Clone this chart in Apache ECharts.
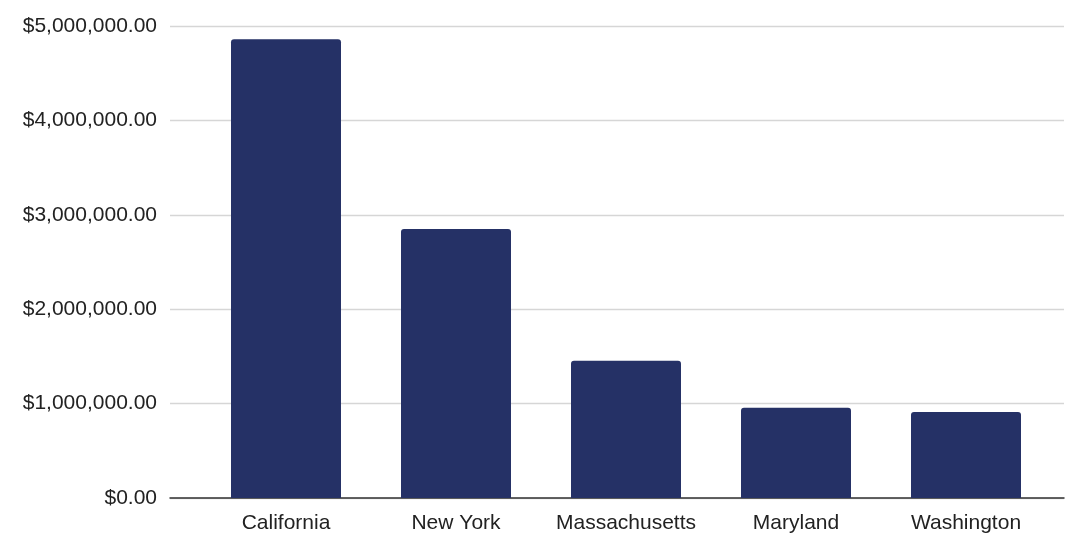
<!DOCTYPE html>
<html>
<head>
<meta charset="utf-8">
<script src="https://cdn.jsdelivr.net/npm/echarts@6/dist/echarts.min.js"></script>
<style>html,body{margin:0;padding:0;background:#fff}#c{width:1074px;height:534px}</style>
</head>
<body>
<div id="c"></div>
<script>
var categories = ['California', 'New York', 'Massachusetts', 'Maryland', 'Washington'];
var values = [4860000, 2850000, 1455000, 955000, 912000];
var yMin = 0, yMax = 5000000, yStep = 1000000;

function fmt(v) {
  return '$' + v.toFixed(2).replace(/\B(?=(\d{3})+(?!\d))/g, ',');
}
var font = 'Liberation Sans, Arial, sans-serif';
var chart = echarts.init(document.getElementById('c'));
chart.setOption({
  animation: false,
  grid: [
    {left: 170, right: 10, top: 26, bottom: 36, containLabel: false},
    {left: 201, right: 23, top: 26, bottom: 36, containLabel: false}
  ],
  xAxis: [
    {type: 'category', gridIndex: 0, data: [''], axisLine: {show: true, lineStyle: {color: '#333', width: 1.5}},
     axisTick: {show: false}, axisLabel: {show: false}, splitLine: {show: false}},
    {type: 'category', gridIndex: 1, data: categories, axisLine: {show: false}, axisTick: {show: false},
     axisLabel: {color: '#222', fontSize: 21, fontFamily: font, margin: 15, interval: 0, hideOverlap: false}}
  ],
  yAxis: [
    {type: 'value', gridIndex: 0, min: yMin, max: yMax, interval: yStep,
     axisLine: {show: false}, axisTick: {show: false},
     axisLabel: {color: '#222', fontSize: 21, fontFamily: font, margin: 13, formatter: fmt},
     splitLine: {lineStyle: {color: '#d6d6d6', width: 1.3}}},
    {type: 'value', gridIndex: 1, min: yMin, max: yMax, interval: yStep,
     axisLine: {show: false}, axisTick: {show: false}, axisLabel: {show: false}, splitLine: {show: false}}
  ],
  series: [{
    type: 'bar', xAxisIndex: 1, yAxisIndex: 1, data: values, barWidth: 110,
    itemStyle: {color: '#253166', borderRadius: [3, 3, 0, 0]}
  }]
});
</script>
</body>
</html>
